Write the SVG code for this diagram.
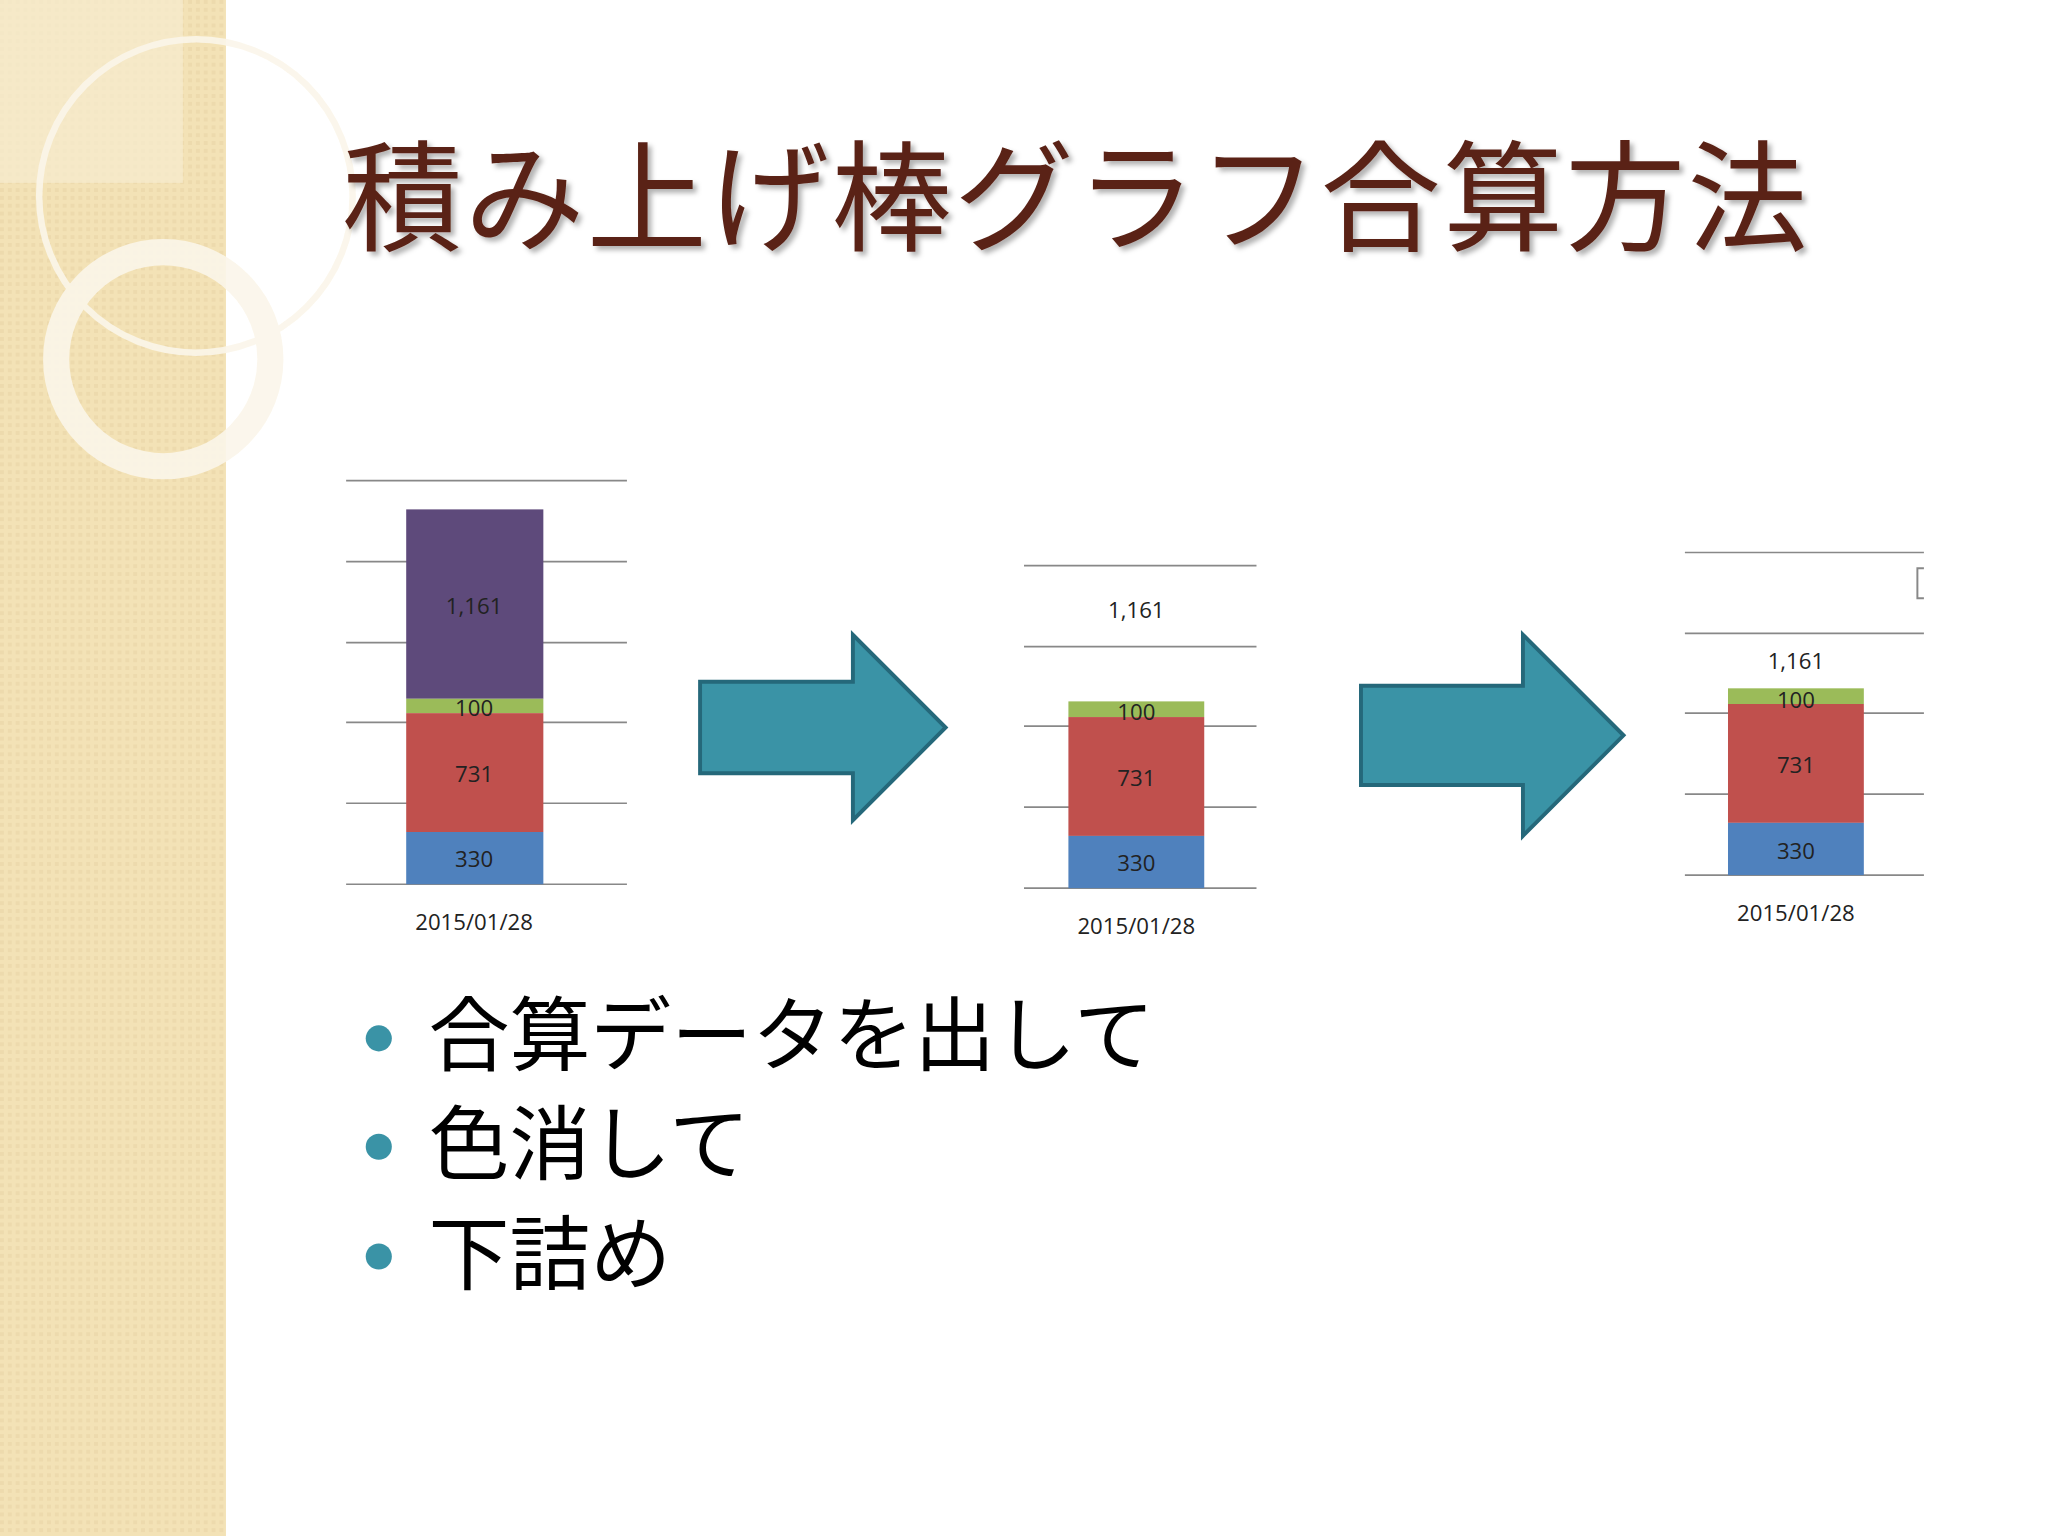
<svg xmlns="http://www.w3.org/2000/svg" width="2048" height="1536" viewBox="0 0 2048 1536">
<defs>
<pattern id="pt" width="6" height="6" patternUnits="userSpaceOnUse"><rect width="6" height="6" fill="#f3e2b6"/><rect width="3" height="3" fill="#ead6a6" opacity="0.6"/></pattern>
<filter id="sh"><feDropShadow dx="3" dy="3" stdDeviation="2" flood-color="#000" flood-opacity="0.3"/></filter>
</defs>
<style>
.g{stroke:#888;stroke-width:1.3}
.lb{font-family:"Open Sans","DejaVu Sans",sans-serif;font-size:17px;fill:#222;text-anchor:middle}
.bt{font-family:"Noto Sans CJK JP",sans-serif;font-size:62px;fill:#000}
.ar{fill:#3a93a6;stroke:#25687a;stroke-width:3}
</style>
<g transform="scale(1.30612)">
<rect width="1568" height="1176" fill="#fff"/>
<rect width="173" height="1176" fill="url(#pt)"/>
<rect x="0" y="0" width="140" height="140" fill="#f7ecd0" opacity="0.7"/>
<g fill="none" stroke="#fbf6ea" opacity="0.9">
<circle cx="150" cy="150" r="120" stroke-width="5"/>
<circle cx="125" cy="275" r="82" stroke-width="20"/>
</g>
<text x="262" y="185" font-family="Noto Sans CJK JP,sans-serif" font-size="92" fill="#5a2418" filter="url(#sh)" textLength="1122">積み上げ棒グラフ合算方法</text>

<g id="chart1">
<line class="g" x1="265" y1="368" x2="480" y2="368"/><line class="g" x1="265" y1="430" x2="480" y2="430"/><line class="g" x1="265" y1="492" x2="480" y2="492"/><line class="g" x1="265" y1="553" x2="480" y2="553"/><line class="g" x1="265" y1="615" x2="480" y2="615"/><line class="g" x1="265" y1="677" x2="480" y2="677"/>
<rect x="311" y="390" width="105" height="145" fill="#5e4a7b"/>
<rect x="311" y="535" width="105" height="11" fill="#9bbb59"/>
<rect x="311" y="546" width="105" height="91" fill="#c0504d"/>
<rect x="311" y="637" width="105" height="40" fill="#4f81bd"/>
<text class="lb" x="363" y="470">1,161</text><text class="lb" x="363" y="548">100</text><text class="lb" x="363" y="599">731</text><text class="lb" x="363" y="664">330</text><text class="lb" x="363" y="712">2015/01/28</text>
</g>
<g id="chart2">
<line class="g" x1="784" y1="433" x2="962" y2="433"/><line class="g" x1="784" y1="495" x2="962" y2="495"/><line class="g" x1="784" y1="556" x2="962" y2="556"/><line class="g" x1="784" y1="618" x2="962" y2="618"/><line class="g" x1="784" y1="680" x2="962" y2="680"/>
<rect x="818" y="537" width="104" height="12" fill="#9bbb59"/>
<rect x="818" y="549" width="104" height="91" fill="#c0504d"/>
<rect x="818" y="640" width="104" height="40" fill="#4f81bd"/>
<text class="lb" x="870" y="473">1,161</text><text class="lb" x="870" y="551">100</text><text class="lb" x="870" y="602">731</text><text class="lb" x="870" y="667">330</text><text class="lb" x="870" y="715">2015/01/28</text>
</g>
<g id="chart3">
<line class="g" x1="1290" y1="423" x2="1473" y2="423"/><line class="g" x1="1290" y1="485" x2="1473" y2="485"/><line class="g" x1="1290" y1="546" x2="1473" y2="546"/><line class="g" x1="1290" y1="608" x2="1473" y2="608"/><line class="g" x1="1290" y1="670" x2="1473" y2="670"/>
<rect x="1323" y="527" width="104" height="12" fill="#9bbb59"/>
<rect x="1323" y="539" width="104" height="91" fill="#c0504d"/>
<rect x="1323" y="630" width="104" height="40" fill="#4f81bd"/>
<path d="M1473,435 h-5 v23 h5" fill="none" stroke="#888" stroke-width="1.5"/>
<text class="lb" x="1375" y="512">1,161</text><text class="lb" x="1375" y="542">100</text><text class="lb" x="1375" y="592">731</text><text class="lb" x="1375" y="658">330</text><text class="lb" x="1375" y="705">2015/01/28</text>
</g>
<g id="connectors">
<polygon class="ar" points="536,522 653,522 653,486 724,557 653,628 653,592 536,592"/>
<polygon class="ar" points="1042,525 1166,525 1166,486 1243,563 1166,640 1166,601 1042,601"/>
</g>
<g id="bullets">
<circle cx="290" cy="795" r="10" fill="#3a93a6"/><circle cx="290" cy="878" r="10" fill="#3a93a6"/><circle cx="290" cy="962" r="10" fill="#3a93a6"/>
<text class="bt" x="328" y="815">合算データを出して</text>
<text class="bt" x="328" y="898">色消して</text>
<text class="bt" x="328" y="982">下詰め</text>
</g>
</g>
</svg>
